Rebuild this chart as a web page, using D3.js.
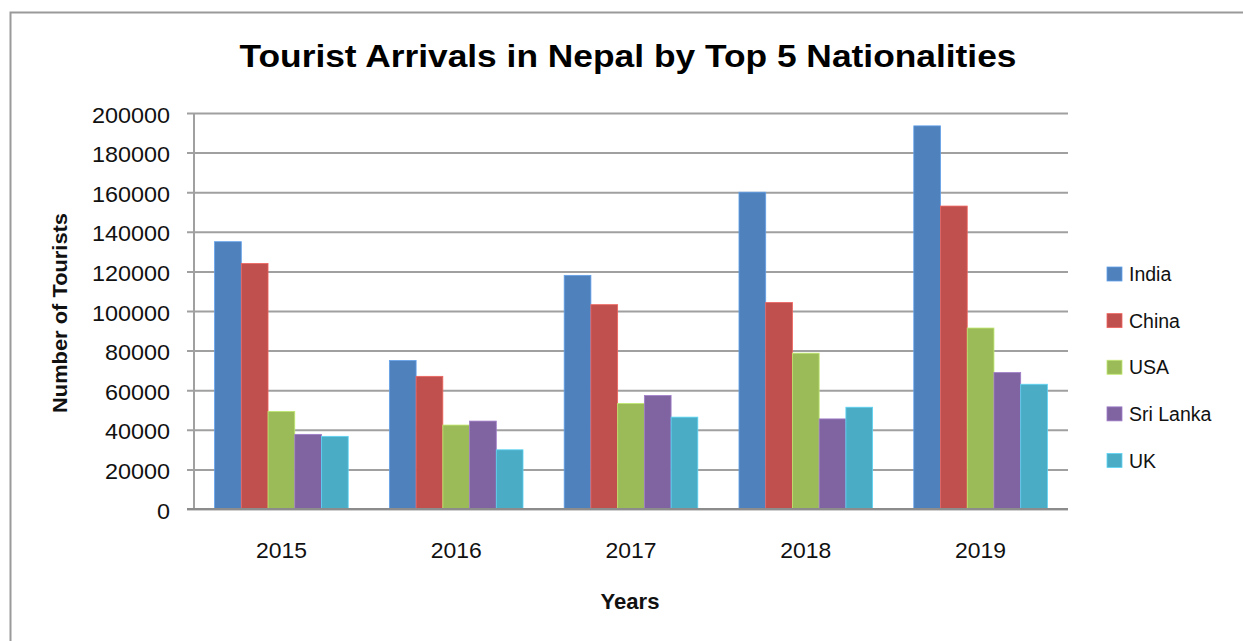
<!DOCTYPE html>
<html>
<head>
<meta charset="utf-8">
<script src="https://cdn.jsdelivr.net/npm/d3@7"></script>
<style>
  html, body { margin: 0; padding: 0; background: #fff; }
  svg { display: block; }
</style>
</head>
<body>
<svg id="chart" width="1243" height="641"></svg>
<script>
// ---- data ----
const years = ["2015", "2016", "2017", "2018", "2019"];
const seriesNames = ["India", "China", "USA", "Sri Lanka", "UK"];
const india    = [135000, 75000, 118000, 160000, 193500];
const china    = [124000, 67000, 103200, 104300, 153000];
const usa      = [49300, 42400, 53300, 78700, 91400];
const sriLanka = [37700, 44400, 57300, 45500, 68900];
const uk       = [36700, 29900, 46400, 51400, 63000];
const yTicks   = [0, 20000, 40000, 60000, 80000, 100000, 120000, 140000, 160000, 180000, 200000];
const colors   = ["#4F81BD", "#C0504D", "#9BBB59", "#8064A2", "#4BACC6"];

const seriesValues = [india, china, usa, sriLanka, uk];

const svg = d3.select("#chart");
const font = "'Liberation Sans', Arial, sans-serif";

// outer border (chart area frame)
svg.append("rect")
  .attr("x", 10.5).attr("y", 12.5)
  .attr("width", 1300).attr("height", 700)
  .attr("fill", "#fff").attr("stroke", "#9a9a9a").attr("stroke-width", 2);

const plot = { left: 194, right: 1068, top: 113, bottom: 509 };

const x0 = d3.scaleBand().domain(years).range([plot.left, plot.right]).padding(0);
const x1 = d3.scaleBand().domain(seriesNames).range([0, x0.bandwidth()])
  .paddingInner(0).paddingOuter(0.77);
const y = d3.scaleLinear().domain([0, 200000]).range([plot.bottom, plot.top]);

// gridlines + left ticks
const yAxis = d3.axisLeft(y).tickValues(yTicks).tickSize(-(plot.right - plot.left)).tickFormat(d => d).tickPadding(24);
const gy = svg.append("g").attr("transform", `translate(${plot.left},0)`).call(yAxis);
gy.select(".domain").remove();
gy.selectAll(".tick line")
  .attr("x1", -7)
  .attr("stroke", "#a0a0a0").attr("stroke-width", 2);
gy.selectAll(".tick text")
  .attr("font-family", font).attr("font-size", 21.5).attr("fill", "#111")
  .attr("textLength", d => String(d).length * 13)
  .attr("lengthAdjust", "spacingAndGlyphs")
  .attr("dy", "0.42em");

// vertical axis line
svg.append("line")
  .attr("x1", plot.left).attr("x2", plot.left)
  .attr("y1", plot.top).attr("y2", plot.bottom)
  .attr("stroke", "#a0a0a0").attr("stroke-width", 2);

// bars
const groups = svg.append("g").selectAll("g")
  .data(years).join("g")
  .attr("transform", d => `translate(${x0(d)},0)`);
groups.selectAll("rect")
  .data((yr, i) => seriesNames.map((s, j) => ({ s, j, v: seriesValues[j][i] })))
  .join("rect")
  .attr("x", d => x1(d.s))
  .attr("width", x1.bandwidth())
  .attr("y", d => y(d.v))
  .attr("height", d => y(0) - y(d.v))
  .attr("fill", d => colors[d.j])
  .attr("stroke", d => d3.color(colors[d.j]).brighter(0.6))
  .attr("stroke-width", 0.8);

// x axis (baseline)
const xAxis = d3.axisBottom(x0).tickSize(0).tickPadding(34);
const gx = svg.append("g").attr("transform", `translate(0,${plot.bottom})`).call(xAxis);
gx.select(".domain").attr("d", `M${plot.left - 7},0H${plot.right}`)
  .attr("stroke", "#8c8c8c").attr("stroke-width", 2.2);
gx.selectAll(".tick text")
  .attr("font-family", font).attr("font-size", 21.5).attr("fill", "#111")
  .attr("textLength", 51).attr("lengthAdjust", "spacingAndGlyphs");

// title
svg.append("text")
  .attr("x", 628).attr("y", 67)
  .attr("text-anchor", "middle")
  .attr("font-family", font).attr("font-weight", "bold").attr("font-size", 32)
  .attr("textLength", 777).attr("lengthAdjust", "spacingAndGlyphs")
  .attr("fill", "#000")
  .text("Tourist Arrivals in Nepal by Top 5 Nationalities");

// axis titles
svg.append("text")
  .attr("x", 630).attr("y", 609)
  .attr("text-anchor", "middle")
  .attr("font-family", font).attr("font-weight", "bold").attr("font-size", 22)
  .attr("textLength", 59).attr("lengthAdjust", "spacingAndGlyphs")
  .attr("fill", "#111")
  .text("Years");

svg.append("text")
  .attr("transform", "translate(67,313) rotate(-90)")
  .attr("text-anchor", "middle")
  .attr("font-family", font).attr("font-weight", "bold").attr("font-size", 20)
  .attr("textLength", 200).attr("lengthAdjust", "spacingAndGlyphs")
  .attr("fill", "#111")
  .text("Number of Tourists");

// legend
const legendY = d3.scalePoint().domain(seriesNames).range([274, 460.5]);
const lg = svg.append("g").selectAll("g").data(seriesNames).join("g")
  .attr("transform", d => `translate(1107,${legendY(d)})`);
lg.append("rect")
  .attr("x", 0).attr("y", -7).attr("width", 15).attr("height", 14)
  .attr("fill", (d, i) => colors[i])
  .attr("stroke", (d, i) => d3.color(colors[i]).brighter(0.6)).attr("stroke-width", 0.8);
lg.append("text")
  .attr("x", 22).attr("y", 0).attr("dy", "0.36em")
  .attr("font-family", font).attr("font-size", 19.5).attr("fill", "#111")
  .text(d => d);
</script>
</body>
</html>
